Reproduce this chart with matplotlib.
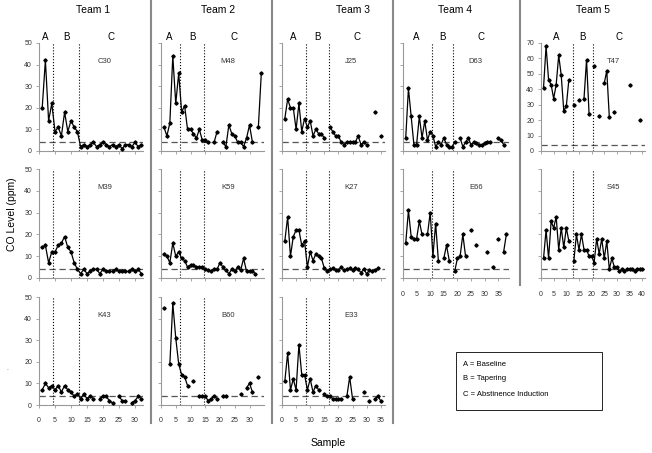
import numpy as np
import matplotlib.pyplot as plt
from matplotlib.lines import Line2D
from matplotlib.patches import Rectangle
from matplotlib.transforms import blended_transform_factory

plt.rcParams['font.family'] = ['Liberation Sans', 'DejaVu Sans']

nan = np.nan

# CO readings (ppm) per participant, sample 1..n  (nan = no sample)
C30 = [20, 42, 14, 22, 9, 11, 7, 18, 9, 14, 11, 9,
       2, 3, 2, 3, 4, 2, 3, 4, 3, 2, 3, 2, 3, 1, 3, 3, 2, 4, 2, 3]
M39 = [14, 15, 7, 12, 12, 15, 16, 19, 14, 12, 7, 4,
       2, 4, 2, 3, 4, 4, 2, 4, 3, 3, 3, 4, 3, 3, 3, 3, 4, 3, 4, 2]
K43 = [7, 10, 8, 9, 7, 9, 6, 9, 7, 6, 4, 5,
       3, 5, 3, 4, 3, nan, 3, 4, 4, 2, 1, nan, 4, 2, 2, nan, 1, 2, 4, 3]
M48 = [11, 7, 13, 44, 22, 36, 18, 21, 10, 10, 8, 6, 10, 5,
       5, 4, nan, 4, 9, nan, 4, 2, 12, 8, 7, 4, 4, 2, 6, 12, 4, nan, 11, 36]
K59 = [11, 10, 7, 16, 10, 12, 9, 8, 5, 6, 6, 5, 5, 5,
       4, 3.5, 3, 4, 4, 7, 5, 3.5, 2, 4, 3, 5, 3.5, 9, 3, 3, 3, 2]
B60 = [45, nan, 19, 47, 31, 19, 14, 13, 9, nan, 11, nan, 4, 4,
       4, 2, 3, 4, 3, nan, 4, 4, nan, nan, nan, nan, 5, nan, 8, 10, 6, nan, 13]
J25 = [15, 24, 20, 20, 10, 22, 9, 15, 11, 14, 7, 10, 8, 8, 6, nan,
       11, 9, 7, 7, 4, 3, 4, 4, 4, 4, 7, 3, 4, 3, nan, nan, 18, nan, 7]
K27 = [17, 28, 10, 19, 22, 22, 15, 17, 5, 12, 8, 11, 10, 9, 4.5, 3,
       4, 4.5, 3.5, 3.5, 5, 3.5, 4, 4.5, 3.5, 4.5, 4, 2.5, 4, 2, 3.5, 3, 3.5, 4.5]
E33 = [11, 24, 7, 12, 7, 28, 14, 14, 7, 12, 6, 9, 7, nan, 5, 4,
       4, 3, 3, 3, 3, nan, 4, 13, 3, nan, nan, nan, 6, nan, 2, nan, 3, 4, 2]
D63 = [6, 29, 16, 3, 3, 16, 6, 14, 5, 9, 7, 2, 4, 3, 6, 3, 2, 2,
       4, nan, 6, 2, 4, 6, 3, 4, 3.5, 3, 3, 3.5, 4, 4, nan, nan, 6, 5, 3]
E66 = [16, 31, 19, 18, 18, 26, 20, nan, 20, 30, 10, 25, 8, nan, 9, 15, 8, nan,
       3, 9, 10, 20, 10, nan, 22, nan, 15, nan, nan, nan, 12, nan, 5, nan, 18, nan, 12, 20]
T47 = [41, 68, 46, 43, 34, 43, 62, 49, 26, 29, 46, nan,
       30, nan, 33, nan, 34, 59, 24, nan,
       55, nan, 23, nan, 44, 52, 22, nan, 25, nan, nan, nan, nan, nan, 43, nan, nan, nan, 20]
S45 = [9, 22, 9, 26, 23, 28, 13, 23, 14, 23, 17, nan,
       8, 20, 13, 20, 13, 13, 10, 10,
       7, 18, 11, 18, 9, 17, 4, 9, 5, 5, 3, 4, 3, 4, 4, 4, 3, 4, 4, 4]

teams = ["Team 1", "Team 2", "Team 3", "Team 4", "Team 5"]
team_members = [[("C30", C30), ("M39", M39), ("K43", K43)],
                [("M48", M48), ("K59", K59), ("B60", B60)],
                [("J25", J25), ("K27", K27), ("E33", E33)],
                [("D63", D63), ("E66", E66)],
                [("T47", T47), ("S45", S45)]]
end_a = [4.5, 6.5, 8.5, 10.5, 12.5]     # baseline -> tapering
end_b = [12.5, 14.5, 16.5, 18.5, 20.5]  # tapering -> abstinence
target = 4  # ppm cutoff

# layout in pixels (figure is 652 x 453)
W, H = 652, 453
col_left = [39, 161, 282, 403, 541]
col_scale = [3.2, 2.95, 2.82, 2.72, 2.53]
col_xmax = [32.5, 35, 36.5, 39, 41]
rows = [(43, 151), (169, 278), (297, 405)]
title_x = [93, 218, 353, 455, 593]

fig = plt.figure(figsize=(W / 100, H / 100), dpi=100)

for c, members in enumerate(team_members):
    for r, (name, vals) in enumerate(members):
        top, bot = rows[r]
        ax = fig.add_axes([col_left[c] / W, 1 - bot / H,
                           col_scale[c] * col_xmax[c] / W, (bot - top) / H])
        ymax = 70 if name == "T47" else 50
        y = np.array(vals, dtype=float)
        x = np.arange(1, len(y) + 1)
        ax.axhline(target, color="#555555", ls=(0, (5, 3)), lw=0.9, zorder=1)
        ax.axvline(end_a[c], color="black", ls=":", lw=0.8)
        ax.axvline(end_b[c], color="black", ls=":", lw=0.8)
        ax.plot(x, y, color="black", lw=0.9, marker="D", ms=1.7, zorder=3)
        ax.set_xlim(0, col_xmax[c])
        ax.set_ylim(0, ymax)
        ax.set_xticks(np.arange(0, col_xmax[c], 5))
        ax.set_yticks(np.arange(0, ymax + 1, 10))
        for s in ["top", "right"]:
            ax.spines[s].set_visible(False)
        for s in ["left", "bottom"]:
            ax.spines[s].set_color("#999999")
            ax.spines[s].set_linewidth(0.8)
        ax.tick_params(length=2, width=0.6, color="#999999", labelsize=5,
                       labelcolor="#333333")
        ax.tick_params(axis="x", pad=7)
        ax.tick_params(axis="y", pad=3)
        if not (c == 0 or (c == 4 and r == 0)):
            ax.set_yticklabels([])
        if r != len(members) - 1:
            ax.set_xticklabels([])
        ax.patch.set_alpha(0)
        ax.text(0.5 * (end_b[c] + col_xmax[c]) - 2, ymax * 0.83, name,
                fontsize=5.5, color="#333333", ha="center", va="center")
        if r == 0:
            tr = blended_transform_factory(ax.transData, ax.transAxes)
            ax.text(end_a[c] / 2 - 0.3, 1.055, "A", transform=tr, fontsize=7,
                    ha="center", va="center")
            ax.text(0.5 * (end_a[c] + end_b[c]), 1.055, "B", transform=tr,
                    fontsize=7, ha="center", va="center")
            ax.text(0.5 * (end_b[c] + col_xmax[c]), 1.055, "C", transform=tr,
                    fontsize=7, ha="center", va="center")
    fig.text(title_x[c] / W, 1 - 10 / H, teams[c], fontsize=7.5,
             ha="center", va="center")

# column dividers
for xd, yend in [(151, 423), (272, 423), (393, 423), (520, 285)]:
    fig.add_artist(Line2D([xd / W, xd / W], [1, 1 - yend / H],
                          color="#888888", lw=1.5))

fig.text(12 / W, 1 - 214 / H, "CO Level (ppm)", rotation=90, fontsize=7.5,
         ha="center", va="center")
fig.text(328 / W, 1 - 443 / H, "Sample", fontsize=7.5, ha="center", va="center")
fig.text(8 / W, 1 - 370 / H, "-", fontsize=4, color="#777777",
         ha="center", va="center")

# key box
fig.add_artist(Rectangle((456 / W, 1 - 410 / H), 146 / W, 58 / H,
                         fill=False, edgecolor="black", lw=0.6))
for i, line in enumerate(["A = Baseline", "B = Tapering",
                          "C = Abstinence Induction"]):
    fig.text(463 / W, 1 - (364 + 15 * i) / H, line, fontsize=5.5,
             ha="left", va="center")

plt.savefig("out.png", dpi=100)
